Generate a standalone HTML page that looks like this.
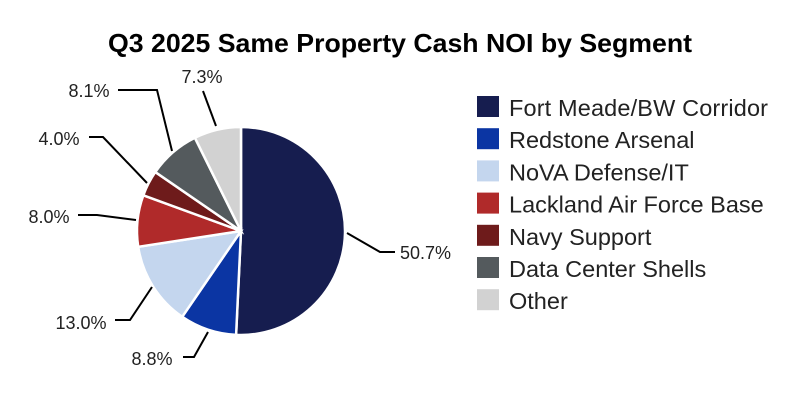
<!DOCTYPE html>
<html><head><meta charset="utf-8"><style>
html,body{margin:0;padding:0;background:#fff;}
svg{display:block;font-family:"Liberation Sans",Arial,sans-serif;}
</style></head><body>
<svg id="s" width="800" height="400" viewBox="0 0 800 400" xmlns="http://www.w3.org/2000/svg">
<rect width="800" height="400" fill="#fff"/>
<text x="400" y="52" text-anchor="middle" font-size="26" font-weight="bold" fill="#000" textLength="584" lengthAdjust="spacingAndGlyphs">Q3 2025 Same Property Cash NOI by Segment</text>
<g id="pie"></g>
<g id="leg"></g>
<g fill="none" stroke="#000" stroke-width="2">
<path d="M347,233 L380,252 L395,252"/>
<path d="M216,126 L203,91"/>
<path d="M118,90 L157,90 L172,151"/>
<path d="M89,137 L103,137 L147,183"/>
<path d="M78,215 L97,215 L136,220"/>
<path d="M115,320 L130,320 L152,287"/>
<path d="M183,357 L194,357 L208,332"/>
</g>
<g font-size="18" fill="#222">
<text x="400" y="259">50.7%</text>
<text x="202" y="83" text-anchor="middle">7.3%</text>
<text x="89" y="97" text-anchor="middle">8.1%</text>
<text x="59" y="145" text-anchor="middle">4.0%</text>
<text x="49" y="223" text-anchor="middle">8.0%</text>
<text x="81" y="329" text-anchor="middle">13.0%</text>
<text x="152" y="365" text-anchor="middle">8.8%</text>
</g>
</svg>
<script>
var data=[["Fort Meade/BW Corridor",50.7,"#161d4f",259],
["Redstone Arsenal",8.8,"#0b35a3",0],
["NoVA Defense/IT",13.0,"#c4d6ee",0],
["Lackland Air Force Base",8.0,"#b02a2a",0],
["Navy Support",4.0,"#6e1b1b",0],
["Data Center Shells",8.1,"#545a5d",0],
["Other",7.3,"#d2d2d2",0]];
var cx=241,cy=231,r=104,tot=99.9,a=0,ns="http://www.w3.org/2000/svg";
var pie=document.getElementById("pie"),leg=document.getElementById("leg");
function el(t,at,p){var e=document.createElementNS(ns,t);for(var k in at)e.setAttribute(k,at[k]);(p||pie).appendChild(e);return e;}
function pt(ang,rr){return [cx+rr*Math.sin(ang),cy-rr*Math.cos(ang)];}
data.forEach(function(d,i){
 var a0=a/tot*2*Math.PI;a+=d[1];var a1=a/tot*2*Math.PI;
 var p0=pt(a0,r),p1=pt(a1,r),lg=(a1-a0)>Math.PI?1:0;
 el("path",{d:"M"+cx+","+cy+"L"+p0+"A"+r+","+r+" 0 "+lg+" 1 "+p1+"Z",fill:d[2],stroke:"#fff","stroke-width":2.5});
 var y=96+i*32.2;
 el("rect",{x:477,y:y,width:22,height:21,fill:d[2]},leg);
 var at={x:509,y:y+20,"font-size":23.5,fill:"#222"};
 if(d[3])at.textLength=d[3];
 var tt=el("text",at,leg);tt.textContent=d[0];
});
</script>
</body></html>
